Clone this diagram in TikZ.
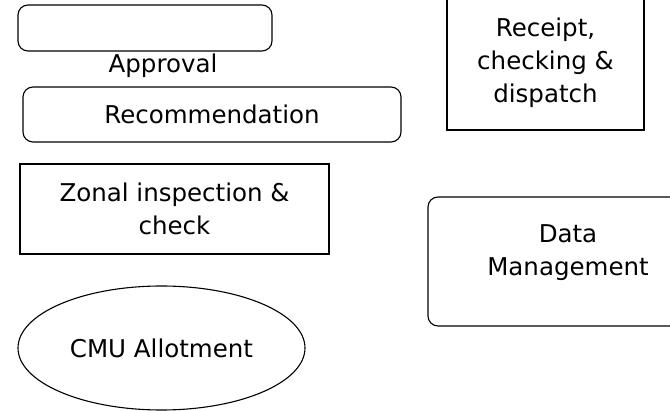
\documentclass[tikz,border=0pt]{standalone}
\usepackage{fontspec}
\setmainfont{DejaVu Sans}
\usetikzlibrary{shapes.geometric}

\begin{document}
\begin{tikzpicture}[x=1pt,y=-1pt,
    every node/.style={font=\fontsize{24.5}{33}\selectfont},
    roundbox/.style={draw,line width=1.1pt,rounded corners=10pt,inner sep=0pt},
    plainbox/.style={draw,line width=1.1pt,inner sep=0pt,align=center},
    ovalbox/.style={draw,ellipse,line width=1.1pt,inner sep=0pt}]
    \clip (0,0) rectangle (670,411);

    % left column
    \node[roundbox,minimum width=254pt,minimum height=46pt] (approvalbox) at (145,28) {};
    \node (approval) at (163,66) {Approval};
    \node[roundbox,minimum width=378pt,minimum height=55pt] (recommend) at (212,114.5) {Recommendation};
    \node[plainbox,minimum width=309pt,minimum height=90pt] (zonal) at (174.5,209) {Zonal inspection \&\\check};
    \node[ovalbox,minimum width=287pt,minimum height=124pt] (cmu) at (161.5,348) {CMU Allotment};

    % right column
    \node[plainbox,minimum width=197pt,minimum height=134pt] (receipt) at (545.5,63) {Receipt,\\checking \&\\dispatch};
    \node[roundbox,align=center,text depth=22pt,minimum width=280pt,minimum height=129pt] (datamgmt) at (568,261.5) {Data\\Management};

\end{tikzpicture}
\end{document}
